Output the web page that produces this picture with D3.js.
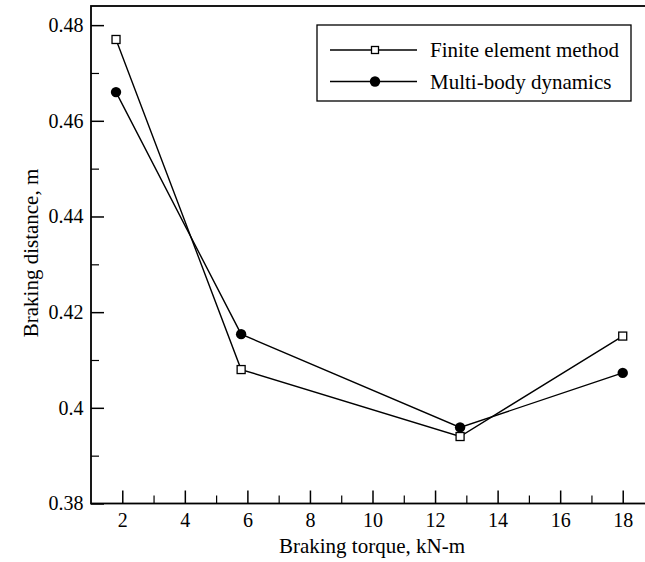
<!DOCTYPE html>
<html>
<head>
<meta charset="utf-8">
<script src="https://cdn.jsdelivr.net/npm/d3@7"></script>
<style>
  html, body { margin: 0; padding: 0; background: #fff; }
  svg { display: block; }
  text { font-family: "Liberation Serif", "Times New Roman", serif; fill: #000; }
</style>
</head>
<body>
<svg id="chart" width="645" height="562"></svg>
<script>
// Braking torque (kN-m) tested
const torque = [1.8, 5.8, 12.8, 18];
// Braking distance (m) for each method
const finiteElement = [0.477, 0.408, 0.394, 0.415];
const multiBody = [0.466, 0.4154, 0.3959, 0.4073];

const xMajorTicks = [2, 4, 6, 8, 10, 12, 14, 16, 18];
const xMinorTicks = [3, 5, 7, 9, 11, 13, 15, 17];
const yMajorTicks = [0.38, 0.40, 0.42, 0.44, 0.46, 0.48];
const yTickLabels = ["0.38", "0.4", "0.42", "0.44", "0.46", "0.48"];
const yMinorTicks = [0.39, 0.41, 0.43, 0.45, 0.47];

const seriesNames = ["Finite element method", "Multi-body dynamics"];

const svg = d3.select("#chart");
const plotLeft = 91, plotRight = 654, plotTop = 6, plotBottom = 503.5;
const fontFamily = "Liberation Serif";

const x = d3.scaleLinear().domain([1, 19]).range([plotLeft, plotRight]);
const y = d3.scaleLinear().domain([0.38, 0.484]).range([plotBottom, plotTop]);

const ink = "#000";

// Plot frame
svg.append("rect")
  .attr("x", plotLeft).attr("y", plotTop)
  .attr("width", plotRight - plotLeft).attr("height", plotBottom - plotTop)
  .attr("fill", "none").attr("stroke", ink).attr("stroke-width", 1.8);

// Bottom axis: major ticks with labels, then minor ticks
const xAxis = svg.append("g").attr("transform", `translate(0,${plotBottom})`)
  .call(d3.axisBottom(x).tickValues(xMajorTicks).tickSizeInner(-13).tickSizeOuter(0).tickPadding(9).tickFormat(d3.format("d")));
xAxis.select(".domain").remove();
xAxis.selectAll(".tick line").attr("stroke", ink).attr("stroke-width", 1.5);
xAxis.selectAll(".tick text").attr("font-size", 20).attr("font-family", fontFamily).attr("fill", ink);

const xMinor = svg.append("g").attr("transform", `translate(0,${plotBottom})`)
  .call(d3.axisBottom(x).tickValues(xMinorTicks).tickSizeInner(-8).tickSizeOuter(0).tickFormat(""));
xMinor.select(".domain").remove();
xMinor.selectAll(".tick line").attr("stroke", ink).attr("stroke-width", 1.2);

// Left axis
const yAxis = svg.append("g").attr("transform", `translate(${plotLeft},0)`)
  .call(d3.axisLeft(y).tickValues(yMajorTicks).tickSizeInner(-13).tickSizeOuter(0).tickPadding(7.5)
    .tickFormat((d, i) => yTickLabels[i]));
yAxis.select(".domain").remove();
yAxis.selectAll(".tick line").attr("stroke", ink).attr("stroke-width", 1.5);
yAxis.selectAll(".tick text").attr("font-size", 20).attr("font-family", fontFamily).attr("fill", ink);

const yMinor = svg.append("g").attr("transform", `translate(${plotLeft},0)`)
  .call(d3.axisLeft(y).tickValues(yMinorTicks).tickSizeInner(-8).tickSizeOuter(0).tickFormat(""));
yMinor.select(".domain").remove();
yMinor.selectAll(".tick line").attr("stroke", ink).attr("stroke-width", 1.2);

// Axis titles
svg.append("text")
  .attr("x", 372).attr("y", 553)
  .attr("text-anchor", "middle").attr("font-size", 21)
  .text("Braking torque, kN-m");

svg.append("text")
  .attr("transform", `translate(38,253) rotate(-90)`)
  .attr("text-anchor", "middle").attr("font-size", 21)
  .text("Braking distance, m");

// Series lines
const line = d3.line().x(d => x(d[0])).y(d => y(d[1]));
const feData = torque.map((t, i) => [t, finiteElement[i]]);
const mbData = torque.map((t, i) => [t, multiBody[i]]);

[feData, mbData].forEach(data => {
  svg.append("path").datum(data)
    .attr("d", line)
    .attr("fill", "none").attr("stroke", ink).attr("stroke-width", 1.4);
});

// Markers: open squares and filled circles
const sq = 8;
svg.append("g").selectAll("rect").data(feData).join("rect")
  .attr("x", d => x(d[0]) - sq / 2).attr("y", d => y(d[1]) - sq / 2)
  .attr("width", sq).attr("height", sq)
  .attr("fill", "#fff").attr("stroke", ink).attr("stroke-width", 1.3);

svg.append("g").selectAll("circle").data(mbData).join("circle")
  .attr("cx", d => x(d[0])).attr("cy", d => y(d[1]))
  .attr("r", 5.2).attr("fill", ink);

// Legend
const legend = svg.append("g");
legend.append("rect")
  .attr("x", 317).attr("y", 25).attr("width", 314).attr("height", 76)
  .attr("fill", "#fff").attr("stroke", ink).attr("stroke-width", 1.3);

const rows = [50, 81.5];
seriesNames.forEach((name, i) => {
  const ry = rows[i];
  legend.append("line")
    .attr("x1", 330).attr("x2", 417).attr("y1", ry).attr("y2", ry)
    .attr("stroke", ink).attr("stroke-width", 1.4);
  if (i === 0) {
    legend.append("rect")
      .attr("x", 375 - 3.5).attr("y", ry - 3.5).attr("width", 7).attr("height", 7)
      .attr("fill", "#fff").attr("stroke", ink).attr("stroke-width", 1.3);
  } else {
    legend.append("circle").attr("cx", 375).attr("cy", ry).attr("r", 5.2).attr("fill", ink);
  }
  legend.append("text")
    .attr("x", 430).attr("y", ry).attr("dy", "0.35em")
    .attr("font-size", 21)
    .text(name);
});
</script>
</body>
</html>
